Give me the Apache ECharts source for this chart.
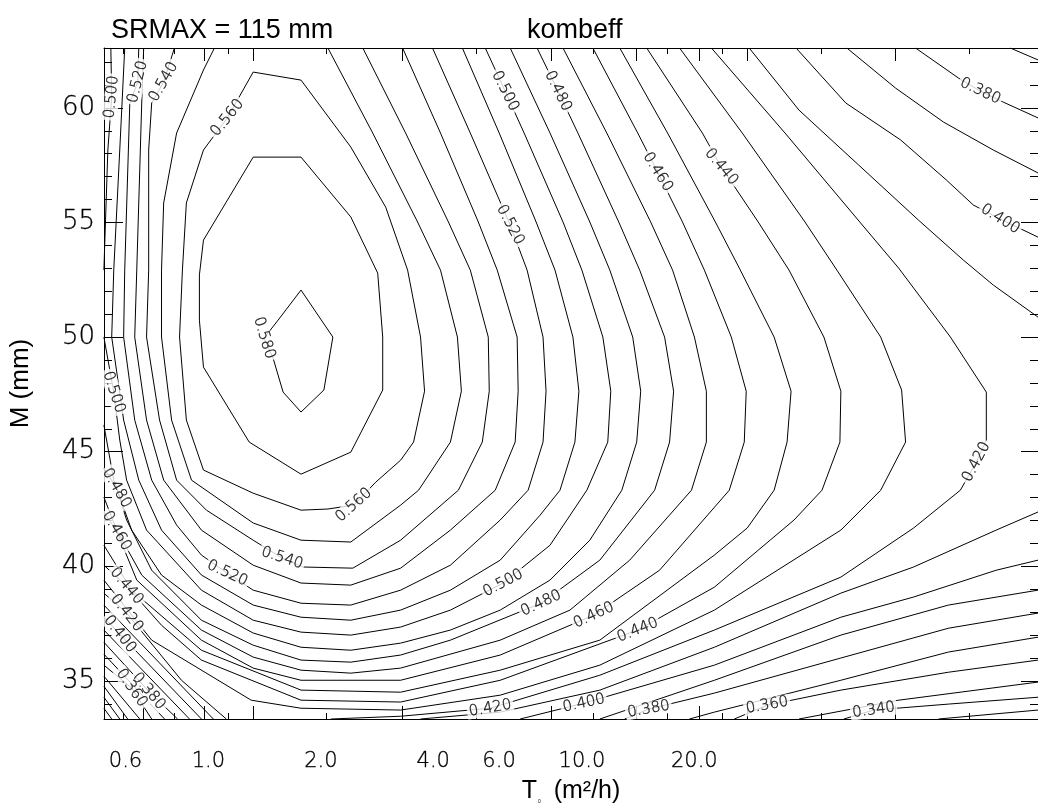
<!DOCTYPE html>
<html>
<head>
<meta charset="utf-8">
<script src="https://cdn.jsdelivr.net/npm/echarts@6/dist/echarts.min.js"></script>
<style>
html, body { margin: 0; padding: 0; background: #fff; }
#chart { width: 1038px; height: 810px; }
</style>
</head>
<body>
<div id="chart"></div>
<script>
// axis values
var tLabels = [0.6, 1.0, 2.0, 4.0, 6.0, 10.0, 20.0];
var mLabels = [35, 40, 45, 50, 55, 60];
var tTicksLong = [0.671, 0.976, 1.318, 3.311, 8.27, 14.02, 20.64, 27.71, 69.18];
var tTicksShort = [0.593, 0.811, 1.131, 2.064, 5.216, 10.7, 16.96, 23.77, 43.65, 108.96];
var mTicksMinor = [34, 36, 37, 38, 39, 41, 42, 43, 44, 46, 47, 48, 49, 51, 52, 53, 54, 56, 57, 58, 59, 61, 62];
var tRange = [0.5254, 166.4];
var mRange = [33.34, 62.61];

// contour lines of kombeff, points are [T (m2/h), M (mm)]
var c580 = [[1.41,49.96],[1.537,50.74],[1.77,52.05],[2.154,50.0],[2.038,47.69],[1.77,46.73],[1.585,47.6],[1.49,49.08],[1.41,49.96]];
var c570 = [[1.318,57.85],[1.77,57.85],[2.406,55.24],[2.84,52.79],[2.929,50.0],[2.929,47.69],[2.406,44.98],[1.77,44.02],[1.286,45.42],[0.97,48.69],[0.946,50.74],[0.946,52.71],[0.97,54.23],[1.318,57.85]];
var c560 = [[1.318,61.56],[1.77,61.21],[2.406,58.29],[2.983,55.67],[3.415,52.92],[3.698,50.0],[3.791,47.64],[3.543,45.42],[3.271,44.63],[2.805,43.67],[2.451,42.67],[2.089,42.5],[1.77,42.45],[1.318,43.19],[0.97,44.2],[0.873,46.38],[0.837,50.0],[0.852,52.92],[0.873,55.85],[0.97,58.16],[1.124,59.56],[1.318,61.56]];
var c550 = [[1.038,62.61],[0.97,61.65],[0.822,58.9],[0.759,55.85],[0.749,52.92],[0.749,50.0],[0.797,46.38],[0.901,43.76],[1.318,41.89],[1.77,41.14],[2.406,41.06],[3.271,42.67],[3.654,43.32],[4.446,45.42],[4.757,47.64],[4.642,50.0],[4.182,52.92],[3.631,55.02],[2.754,58.9],[2.089,62.61]];
var c540 = [[0.811,62.61],[0.759,61.13],[0.705,60.21],[0.692,58.16],[0.692,52.92],[0.683,50.0],[0.74,46.38],[0.822,43.76],[0.988,42.45],[1.318,41.14],[1.575,40.36],[1.792,39.97],[2.436,39.92],[3.271,41.14],[4.67,43.32],[5.412,45.42],[5.649,47.64],[5.615,50.0],[5.026,52.92],[4.392,55.02],[3.373,58.9],[2.591,62.61]];
var c530 = [[0.671,62.61],[0.663,60.21],[0.643,52.92],[0.635,50.0],[0.683,46.38],[0.759,43.76],[0.958,41.58],[1.318,40.05],[1.77,39.27],[2.406,39.18],[3.271,39.92],[4.446,41.58],[5.861,43.32],[6.627,45.42],[6.751,47.64],[6.709,50.0],[5.934,52.92],[5.28,55.02],[4.182,58.9],[3.311,62.61]];
var c520 = [[0.651,62.61],[0.647,61.13],[0.616,60.21],[0.597,52.92],[0.593,50.0],[0.635,46.38],[0.705,43.76],[0.822,41.8],[0.958,40.49],[1.124,39.7],[1.318,38.96],[1.77,38.39],[2.406,38.31],[3.271,38.96],[4.446,40.05],[6.044,42.02],[7.178,43.32],[7.87,45.42],[8.017,47.64],[7.87,50.0],[7.134,52.92],[6.427,54.89],[5.026,58.9],[3.981,62.61]];
var c510 = [[0.597,62.61],[0.579,58.16],[0.558,52.92],[0.551,50.0],[0.593,46.38],[0.651,43.76],[0.749,41.58],[0.958,39.62],[1.318,38.31],[1.77,37.78],[2.406,37.65],[3.271,38.09],[4.446,38.96],[6.044,40.27],[7.727,42.23],[8.737,43.32],[9.579,45.42],[9.817,47.64],[9.462,50.0],[8.472,52.92],[7.541,55.02],[6.007,58.9],[4.786,62.61]];
var c500a = [[0.548,62.61],[0.551,60.47],[0.538,58.16],[0.525,52.92]];
var c500b = [[0.525,50.0],[0.558,47.6],[0.579,45.51],[0.604,43.76],[0.683,41.58],[0.958,38.96],[1.318,37.65],[1.77,37.13],[2.406,37.0],[3.271,37.35],[4.446,38.09],[6.156,39.27],[8.216,40.92],[10.31,43.32],[11.73,45.42],[11.95,47.64],[11.38,50.0],[10.0,52.92],[8.9,55.02],[7.004,58.9],[6.23,60.73],[5.512,62.61]];
var c490 = [[0.525,46.16],[0.558,43.76],[0.623,41.58],[0.749,39.62],[0.958,38.31],[1.318,37.09],[1.77,36.47],[2.406,36.34],[3.271,36.65],[4.446,37.22],[6.044,38.09],[8.216,39.4],[10.5,41.14],[12.79,43.32],[14.02,45.42],[14.37,47.64],[13.68,50.0],[11.88,52.92],[10.5,55.02],[8.216,58.9],[6.427,62.61]];
var c480 = [[0.525,44.28],[0.568,43.41],[0.604,42.02],[0.705,39.83],[0.958,37.65],[1.318,36.56],[1.77,35.91],[2.406,35.82],[3.271,36.13],[4.446,36.78],[7.775,38.39],[11.17,40.27],[15.66,43.32],[17.17,45.42],[17.6,47.64],[16.65,50.0],[14.28,52.92],[12.55,55.02],[9.757,58.9],[8.63,60.73],[7.586,62.61]];
var c470 = [[0.525,43.02],[0.568,41.58],[0.663,39.62],[0.958,37.22],[1.318,36.04],[1.77,35.47],[2.406,35.34],[3.271,35.56],[6.044,36.78],[9.29,38.09],[13.43,40.27],[19.65,43.32],[21.54,45.42],[21.54,47.64],[20.01,50.0],[17.49,52.92],[15.28,55.02],[11.66,58.9],[8.9,62.61]];
var c460 = [[0.525,42.37],[0.568,41.54],[0.643,39.4],[0.958,36.78],[1.318,35.56],[1.77,35.03],[3.271,35.03],[6.044,36.13],[10.76,37.87],[16.14,39.83],[24.81,43.32],[27.21,45.42],[27.54,47.64],[25.12,50.0],[21.28,52.92],[18.59,55.02],[15.95,57.2],[14.11,58.9],[10.7,62.61]];
var c450 = [[0.525,40.92],[0.623,38.96],[0.958,36.34],[1.77,34.6],[3.271,34.51],[6.044,35.47],[11.17,36.78],[22.63,40.49],[27.71,41.67],[32.71,43.32],[35.43,45.42],[36.31,47.64],[32.71,50.0],[26.39,53.01],[22.77,55.02],[16.96,58.9],[12.63,62.61]];
var c440 = [[0.525,40.05],[0.604,39.14],[0.749,37.43],[0.958,35.91],[1.77,34.16],[3.271,34.08],[6.044,35.03],[14.11,37.22],[22.63,39.09],[36.98,42.02],[43.93,43.32],[49.07,45.42],[49.36,47.64],[44.46,50.0],[35.86,52.92],[29.65,55.02],[23.62,57.42],[21.02,58.9],[14.91,62.61]];
var c430 = [[0.525,39.4],[0.705,36.78],[1.302,34.16],[1.77,33.81],[3.271,33.73],[6.044,34.38],[11.17,35.69],[22.63,38.09],[49.36,41.58],[63.1,43.32],[73.56,45.42],[71.78,47.69],[63.1,50.0],[48.17,52.92],[39.56,55.02],[26.88,58.9],[18.26,62.61]];
var c420a = [[0.525,38.83],[0.604,37.96],[0.847,35.03],[1.117,33.34]];
var c420b = [[2.128,33.34],[3.271,33.46],[5.684,33.81],[11.17,35.25],[22.63,37.22],[49.36,39.53],[77.27,41.67],[103.1,43.32],[113.8,44.55],[121.0,45.51],[121.0,47.6],[96.98,50.0],[70.47,53.01],[55.46,55.02],[34.99,58.9],[22.22,62.61]];
var c410a = [[0.525,38.31],[1.031,33.34]];
var c410b = [[3.698,33.34],[6.044,33.64],[11.17,34.6],[22.63,36.47],[49.36,38.83],[77.27,39.97],[128.6,41.58],[166.4,42.37]];
var c410c = [[28.05,62.61],[38.13,59.9],[55.13,57.5],[79.67,55.1],[105.0,53.36],[126.3,52.27],[166.4,50.87]];
var c400a = [[0.525,37.78],[0.579,37.04],[0.958,33.34]];
var c400b = [[6.834,33.34],[10.12,34.03],[22.63,35.69],[49.36,37.78],[77.27,38.66],[128.6,39.83],[166.4,40.27]];
var c400c = [[37.44,62.61],[50.89,60.21],[71.34,58.6],[94.62,56.85],[111.7,55.76],[131.8,55.15],[166.4,54.36]];
var c390a = [[0.525,37.22],[0.89,33.34]];
var c390b = [[11.17,33.34],[22.63,35.03],[49.36,37.0],[95.79,38.31],[166.4,38.96]];
var c390c = [[51.2,62.61],[69.18,60.86],[92.9,59.38],[126.3,58.16],[166.4,57.16]];
var c380a = [[0.525,36.69],[0.692,34.55],[0.827,33.34]];
var c380b = [[13.02,33.34],[15.09,33.77],[22.63,34.47],[49.36,36.0],[95.79,37.3],[166.4,37.96]];
var c380c = [[78.22,62.61],[101.9,61.3],[116.6,60.73],[134.3,60.25],[166.4,59.56]];
var c370a = [[0.525,36.17],[0.763,33.34]];
var c370b = [[19.41,33.34],[22.63,33.64],[49.36,35.03],[95.79,36.26],[166.4,36.91]];
var c370c = [[140.2,62.61],[166.4,62.09]];
var c360a = [[0.525,35.69],[0.623,34.69],[0.705,33.34]];
var c360b = [[25.59,33.34],[31.33,33.94],[49.36,34.6],[95.79,35.38],[166.4,35.91]];
var c350a = [[0.525,35.21],[0.655,33.34]];
var c350b = [[38.13,33.34],[70.47,34.16],[166.4,34.95]];
var c340a = [[0.525,34.77],[0.608,33.34]];
var c340b = [[50.27,33.34],[60.44,33.73],[95.79,33.99],[166.4,34.29]];
var c330a = [[0.525,34.29],[0.579,33.34]];
var c330b = [[90.1,33.34],[166.4,33.73]];
var c320a = [[0.525,33.81],[0.551,33.34]];

var contourLines = [c580, c570, c560, c550, c540, c530, c520, c510, c500a, c500b,
    c490, c480, c470, c460, c450, c440, c430, c420a, c420b,
    c410a, c410b, c410c, c400a, c400b, c400c, c390a, c390b, c390c,
    c380a, c380b, c380c, c370a, c370b, c370c, c360a, c360b,
    c350a, c350b, c340a, c340b, c330a, c330b, c320a];

// contour labels: [T, M, text, angle]
var contourLabels = [
    [1.41, 49.96, '0.580', -73],
    [1.124, 59.56, '0.560', 51], [2.451, 42.67, '0.560', 42],
    [0.759, 61.13, '0.540', 60], [1.575, 40.36, '0.540', -18],
    [0.647, 61.13, '0.520', 76], [1.124, 39.7, '0.520', -25], [6.427, 54.89, '0.520', -62],
    [0.551, 60.47, '0.500', 84], [0.558, 47.6, '0.500', -72], [6.156, 39.27, '0.500', 28], [6.23, 60.73, '0.500', -63],
    [0.568, 43.41, '0.480', -60], [7.775, 38.39, '0.480', 25], [8.63, 60.73, '0.480', -64],
    [0.568, 41.54, '0.460', -60], [10.76, 37.87, '0.460', 25], [15.95, 57.2, '0.460', -58],
    [0.604, 39.14, '0.440', -50], [14.11, 37.22, '0.440', 22], [23.62, 57.42, '0.440', -50],
    [0.604, 37.96, '0.420', -52], [5.684, 33.81, '0.420', 10], [113.8, 44.55, '0.420', 62],
    [0.579, 37.04, '0.400', -52], [10.12, 34.03, '0.400', 12], [131.8, 55.15, '0.400', -32],
    [0.692, 34.55, '0.380', -50], [15.09, 33.77, '0.380', 10], [116.6, 60.73, '0.380', -25],
    [0.623, 34.69, '0.360', -55], [31.33, 33.94, '0.360', 10],
    [60.44, 33.73, '0.340', 8]
];

var lg = function (t) {
    return Math.log10(t);
};
var thinFont = 'DejaVu Sans';

var series = contourLines.map(function (line) {
    return {
        type: 'line',
        data: line.map(function (p) {
            return [lg(p[0]), p[1]];
        }),
        symbol: 'none',
        silent: true,
        animation: false,
        z: 2,
        lineStyle: {color: '#000', width: 1}
    };
});
series.push({
    type: 'scatter',
    symbolSize: 1,
    silent: true,
    animation: false,
    z: 5,
    itemStyle: {color: 'rgba(0,0,0,0)'},
    label: {
        show: true,
        position: 'inside',
        formatter: '{b}',
        color: '#000',
        fontSize: 15,
        fontFamily: thinFont,
        fontWeight: 200,
        textBorderColor: '#000',
        textBorderWidth: 0.4,
        backgroundColor: '#fff',
        padding: [0, 2]
    },
    data: contourLabels.map(function (l) {
        return {value: [lg(l[0]), l[1]], name: l[2], label: {rotate: l[3]}};
    })
});

function xAxisPart(pos, opt) {
    var a = {
        type: 'value',
        position: pos,
        min: lg(tRange[0]),
        max: lg(tRange[1]),
        splitLine: {show: false},
        axisLine: {show: false, onZero: false},
        axisTick: {show: false},
        axisLabel: {show: false}
    };
    return Object.assign(a, opt);
}
function yAxisPart(pos, opt) {
    var a = {
        type: 'value',
        position: pos,
        min: mRange[0],
        max: mRange[1],
        splitLine: {show: false},
        axisLine: {show: false, onZero: false},
        axisTick: {show: false},
        axisLabel: {show: false}
    };
    return Object.assign(a, opt);
}
var blackLine = {show: true, onZero: false, lineStyle: {color: '#000', width: 1}};
var tickStyle = {color: '#000', width: 1};

var chart = echarts.init(document.getElementById('chart'));
chart.setOption({
    animation: false,
    backgroundColor: '#fff',
    title: [
        {text: 'SRMAX = 115 mm', left: 106, top: 12,
            textStyle: {fontFamily: 'Liberation Sans', fontSize: 27, fontWeight: 'normal', color: '#000'}},
        {text: 'kombeff', left: 522, top: 12,
            textStyle: {fontFamily: 'Liberation Sans', fontSize: 27, fontWeight: 'normal', color: '#000'}}
    ],
    grid: {left: 102, right: -2, top: 48, bottom: 91},
    xAxis: [
        xAxisPart('bottom', {
            axisLine: blackLine,
            axisLabel: {
                show: true,
                customValues: tLabels.map(lg),
                formatter: function (v) {
                    return Math.pow(10, v).toFixed(1);
                },
                margin: 32,
                color: '#000',
                fontFamily: thinFont,
                fontWeight: 200,
                fontSize: 21,
                textBorderColor: '#000',
                textBorderWidth: 0.3
            },
            name: 'T{s|0} (m²/h)',
            nameLocation: 'middle',
            nameGap: 60,
            nameTextStyle: {
                fontFamily: 'Liberation Sans',
                fontSize: 25,
                color: '#000',
                rich: {s: {fontSize: 5, verticalAlign: 'bottom', padding: [0, 6, 0, 1]}}
            }
        }),
        xAxisPart('bottom', {axisTick: {show: true, inside: true, length: 13, customValues: tTicksLong.map(lg), lineStyle: tickStyle}}),
        xAxisPart('bottom', {axisTick: {show: true, inside: true, length: 6, customValues: tTicksShort.map(lg), lineStyle: tickStyle}}),
        xAxisPart('top', {axisLine: blackLine, axisTick: {show: true, inside: true, length: 13, customValues: tTicksLong.map(lg), lineStyle: tickStyle}}),
        xAxisPart('top', {axisTick: {show: true, inside: true, length: 6, customValues: tTicksShort.map(lg), lineStyle: tickStyle}})
    ],
    yAxis: [
        yAxisPart('left', {
            axisLine: blackLine,
            axisTick: {show: true, inside: true, length: 19, customValues: mLabels, lineStyle: tickStyle},
            axisLabel: {
                show: true,
                customValues: mLabels,
                margin: 9,
                color: '#000',
                fontFamily: thinFont,
                fontWeight: 200,
                fontSize: 26,
                textBorderColor: '#000',
                textBorderWidth: 0.3
            },
            name: 'M (mm)',
            nameLocation: 'middle',
            nameGap: 70,
            nameRotate: 90,
            nameTextStyle: {fontFamily: 'Liberation Sans', fontSize: 26, color: '#000'}
        }),
        yAxisPart('left', {axisTick: {show: true, inside: true, length: 8, customValues: mTicksMinor, lineStyle: tickStyle}}),
        yAxisPart('right', {axisLine: blackLine, axisTick: {show: true, inside: true, length: 17, customValues: mLabels, lineStyle: tickStyle}}),
        yAxisPart('right', {axisTick: {show: true, inside: true, length: 8, customValues: mTicksMinor, lineStyle: tickStyle}})
    ],
    series: series
});
</script>
</body>
</html>
